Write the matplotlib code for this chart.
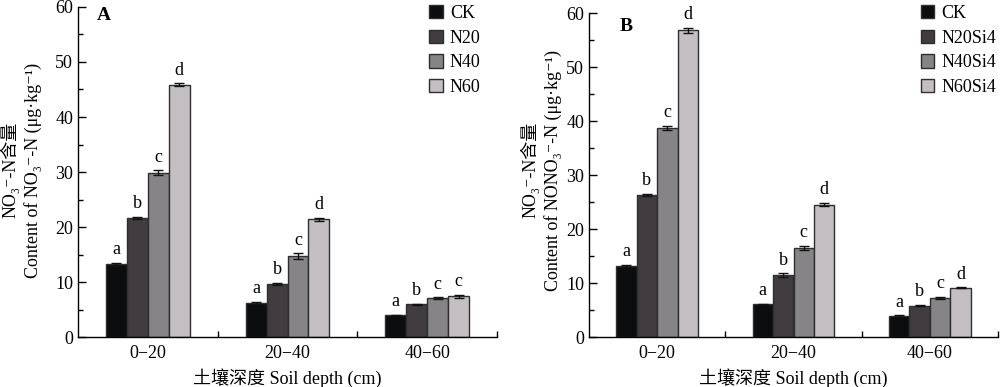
import numpy as np
import matplotlib.pyplot as plt
from matplotlib.ticker import MultipleLocator, FixedLocator

plt.rcParams['font.family'] = ['Liberation Serif', 'Noto Sans CJK SC', 'DejaVu Serif']
plt.rcParams['font.size'] = 13

depths = ['0\u221220', '20\u221240', '40\u221260']

# panel A
labels_a = ['CK', 'N20', 'N40', 'N60']
vals_a = [[13.2, 6.2, 4.0],
          [21.6, 9.6, 6.0],
          [29.9, 14.7, 7.1],
          [45.9, 21.4, 7.4]]
err_a = [[0.25, 0.2, 0.1],
         [0.2, 0.2, 0.1],
         [0.4, 0.5, 0.1],
         [0.2, 0.3, 0.25]]
sig_a = [['a', 'a', 'a'],
         ['b', 'b', 'b'],
         ['c', 'c', 'c'],
         ['d', 'd', 'c']]

# panel B
labels_b = ['CK', 'N20Si4', 'N40Si4', 'N60Si4']
vals_b = [[13.2, 6.1, 3.9],
          [26.3, 11.5, 5.8],
          [38.7, 16.5, 7.3],
          [56.8, 24.5, 9.1]]
err_b = [[0.2, 0.1, 0.1],
         [0.2, 0.3, 0.1],
         [0.4, 0.4, 0.2],
         [0.5, 0.3, 0.1]]
sig_b = [['a', 'a', 'a'],
         ['b', 'b', 'b'],
         ['c', 'c', 'c'],
         ['d', 'd', 'd']]

colors = ['#0b0d0e', '#403c40', '#868486', '#c3bfc3']
edge = '#2e2e2e'


def draw_panel(ax, labels, vals, errs, sigs, letter, letter_pos, leg_anchor):
    x = np.arange(1, len(depths) + 1)
    w = 0.15
    for i in range(4):
        pos = x + (i - 1.5) * w
        ax.bar(pos, vals[i], width=w, color=colors[i], edgecolor=edge,
               linewidth=1.0, label=labels[i], zorder=2)
        ax.errorbar(pos, vals[i], yerr=errs[i], fmt='none', ecolor='#111111',
                    elinewidth=1.0, capsize=3.5, capthick=1.0, zorder=3)
        for p, v, e, s in zip(pos, vals[i], errs[i], sigs[i]):
            ax.annotate(s, (p, v + e), xytext=(0, 3.5), textcoords='offset points',
                        ha='center', va='bottom', fontsize=13)
    ax.set_xlim(0.5, 3.5)
    ax.set_ylim(0, 60)
    ax.spines['top'].set_visible(False)
    ax.spines['right'].set_visible(False)
    ax.yaxis.set_major_locator(MultipleLocator(10))
    ax.yaxis.set_minor_locator(MultipleLocator(5))
    ax.tick_params(axis='y', which='major', direction='in', length=6, width=1)
    ax.tick_params(axis='y', which='minor', direction='in', length=3.5, width=1)
    ax.set_xticks(x)
    ax.set_xticklabels(depths)
    ax.tick_params(axis='x', which='major', length=0, pad=6)
    ax.xaxis.set_minor_locator(FixedLocator([1.5, 2.5, 3.5]))
    ax.tick_params(axis='x', which='minor', direction='in', length=4, width=1)
    ax.set_xlabel('土壤深度 Soil depth (cm)', labelpad=4)
    ax.text(letter_pos[0], letter_pos[1], letter, transform=ax.transAxes,
            fontsize=14, fontweight='bold', va='top')
    ax.legend(loc='upper right', bbox_to_anchor=leg_anchor, frameon=False,
              handlelength=0.75, handleheight=0.75, handletextpad=0.4,
              labelspacing=0.42, fontsize=13)
    for s in ax.spines.values():
        s.set_linewidth(1.0)
    return ax


fig = plt.figure(figsize=(10, 3.87), dpi=100)
ax_a = fig.add_axes([0.078, 0.129, 0.419, 0.853])
ax_b = fig.add_axes([0.589, 0.129, 0.409, 0.837])

draw_panel(ax_a, labels_a, vals_a, err_a, sig_a, 'A', (0.045, 1.0), (1.0, 1.055))
draw_panel(ax_b, labels_b, vals_b, err_b, sig_b, 'B', (0.075, 0.985), (1.035, 1.075))

fig.text(0.010, 0.56, 'NO\u2083\u207b-N含量', rotation=90, ha='center', va='center')
fig.text(0.033, 0.56, 'Content of NO\u2083\u207b-N (μg·kg\u207b\u00b9)', rotation=90,
         ha='center', va='center')
fig.text(0.530, 0.56, 'NO\u2083\u207b-N含量', rotation=90, ha='center', va='center')
fig.text(0.553, 0.56, 'Content of NONO\u2083\u207b-N (μg·kg\u207b\u00b9)', rotation=90,
         ha='center', va='center')

fig.savefig('out.png', dpi=100)
